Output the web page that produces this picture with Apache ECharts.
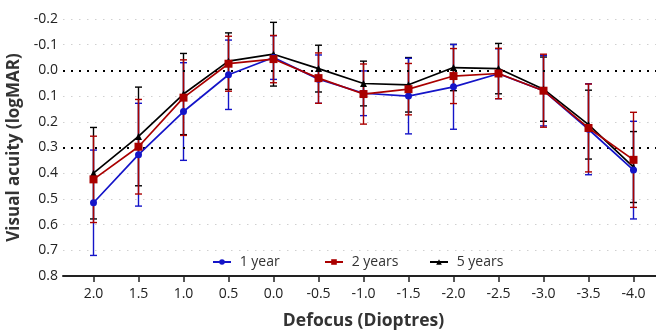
<!DOCTYPE html>
<html>
<head>
<meta charset="utf-8">
<script src="https://cdn.jsdelivr.net/npm/echarts@6/dist/echarts.min.js"></script>
<style>
  html, body { margin: 0; padding: 0; background: #fff; }
  #chart { width: 656px; height: 333px; }
</style>
</head>
<body>
<div id="chart"></div>
<script>
// Defocus levels (dioptres) along the x axis
const categories = ['2.0', '1.5', '1.0', '0.5', '0.0', '-0.5', '-1.0', '-1.5', '-2.0', '-2.5', '-3.0', '-3.5', '-4.0'];

// Mean visual acuity (logMAR) and standard deviation per follow-up
const year1 = [0.515, 0.328, 0.160, 0.017, -0.050, 0.034, 0.089, 0.100, 0.064, 0.013, 0.079, 0.229, 0.388];
const year1Err = [0.205, 0.200, 0.190, 0.135, 0.085, 0.094, 0.087, 0.147, 0.165, 0.097, 0.137, 0.177, 0.190];

const year2 = [0.424, 0.297, 0.106, -0.026, -0.044, 0.030, 0.092, 0.073, 0.022, 0.012, 0.079, 0.224, 0.348];
const year2Err = [0.168, 0.184, 0.147, 0.107, 0.092, 0.098, 0.117, 0.100, 0.107, 0.098, 0.142, 0.171, 0.185];

const year5 = [0.400, 0.257, 0.092, -0.036, -0.063, -0.007, 0.051, 0.056, -0.011, -0.007, 0.073, 0.211, 0.376];
const year5Err = [0.178, 0.192, 0.158, 0.110, 0.124, 0.091, 0.087, 0.106, 0.090, 0.098, 0.125, 0.134, 0.138];

// Reference acuity levels drawn as dotted lines
const refLines = [0.0, 0.3];

const FONT = 'Open Sans';
const BLUE = '#1414c8';
const RED = '#aa0000';
const BLACK = '#000000';

function errorData(mean, err) {
  return mean.map((m, i) => [i, m - err[i], m + err[i]]);
}

function errorSeries(name, mean, err, color, z) {
  return {
    name: name + ' SD',
    type: 'custom',
    xAxisIndex: 0,
    yAxisIndex: 0,
    z: z,
    silent: true,
    encode: { x: 0, y: [1, 2] },
    data: errorData(mean, err),
    renderItem: function (params, api) {
      const x = api.value(0);
      const lo = api.coord([x, api.value(1)]);
      const hi = api.coord([x, api.value(2)]);
      const hw = 3.5;
      const style = { stroke: color, lineWidth: 1.4 };
      return {
        type: 'group',
        children: [
          { type: 'line', shape: { x1: lo[0], y1: lo[1], x2: hi[0], y2: hi[1] }, style: style },
          { type: 'line', shape: { x1: lo[0] - hw, y1: lo[1], x2: lo[0] + hw, y2: lo[1] }, style: style },
          { type: 'line', shape: { x1: hi[0] - hw, y1: hi[1], x2: hi[0] + hw, y2: hi[1] }, style: style }
        ]
      };
    }
  };
}

function meanSeries(name, mean, color, symbol, size, z) {
  return {
    name: name,
    type: 'line',
    xAxisIndex: 0,
    yAxisIndex: 0,
    z: z,
    data: mean,
    symbol: symbol,
    symbolSize: size,
    showSymbol: true,
    lineStyle: { color: color, width: 1.7 },
    itemStyle: { color: color },
    emphasis: { disabled: true }
  };
}

function legendAt(name, left) {
  return {
    data: [name],
    left: left,
    top: 250,
    itemWidth: 18,
    itemHeight: 7,
    formatter: ' {name}',
    textStyle: { fontFamily: FONT, fontSize: 14, color: '#333' }
  };
}

const chart = echarts.init(document.getElementById('chart'), null, { renderer: 'canvas' });

chart.setOption({
  animation: false,
  backgroundColor: '#ffffff',
  textStyle: { fontFamily: FONT },
  legend: [
    legendAt('1 year', 207),
    legendAt('2 years', 319),
    legendAt('5 years', 424)
  ],
  grid: [
    { left: 71, right: 0, top: 19, bottom: 57, outerBoundsMode: 'none' },
    { left: 63, right: 0, top: 19, bottom: 57, outerBoundsMode: 'none' }
  ],
  xAxis: [
    {
      type: 'category',
      gridIndex: 0,
      data: categories,
      boundaryGap: true,
      axisLine: { show: false, onZero: false },
      axisTick: { show: true, alignWithLabel: true, length: 6, lineStyle: { color: '#222', width: 1.5 } },
      axisLabel: { fontFamily: FONT, fontSize: 14, color: '#222', margin: 11 },
      splitLine: { show: false },
      name: 'Defocus (Dioptres)',
      nameLocation: 'middle',
      nameGap: 36,
      nameTextStyle: { fontFamily: FONT, fontSize: 17.5, fontWeight: 'bold', color: '#333' }
    },
    {
      type: 'value',
      gridIndex: 1,
      min: 0,
      max: 1,
      axisLine: { show: true, onZero: false, lineStyle: { color: '#222', width: 2 } },
      axisTick: { show: false },
      axisLabel: { show: false },
      splitLine: { show: false }
    }
  ],
  yAxis: [
    {
      type: 'value',
      gridIndex: 0,
      inverse: true,
      min: -0.2,
      max: 0.8,
      interval: 0.1,
      show: false,
      splitLine: { show: false }
    },
    {
      type: 'value',
      gridIndex: 1,
      inverse: true,
      min: -0.2,
      max: 0.8,
      interval: 0.1,
      axisLine: { show: false },
      axisTick: { show: false },
      axisLabel: {
        fontFamily: FONT,
        fontSize: 14,
        color: '#222',
        margin: 5,
        formatter: function (v) {
          const r = Math.round(v * 10) / 10;
          return (Math.abs(r) < 1e-9 ? 0 : r).toFixed(1);
        }
      },
      splitLine: { show: true, lineStyle: { color: '#d0d0d0', width: 1, type: [1.5, 6.5] } },
      name: 'Visual acuity (logMAR)',
      nameLocation: 'middle',
      nameGap: 35,
      nameTextStyle: { fontFamily: FONT, fontSize: 17, fontWeight: 'bold', color: '#333' }
    }
  ],
  series: [
    {
      name: 'reference',
      type: 'line',
      xAxisIndex: 1,
      yAxisIndex: 1,
      data: [],
      silent: true,
      markLine: {
        silent: true,
        symbol: ['none', 'none'],
        label: { show: false },
        lineStyle: { color: '#000', width: 2, type: [2, 6] },
        data: refLines.map(v => ({ yAxis: v }))
      }
    },
    errorSeries('5 years', year5, year5Err, BLACK, 2),
    errorSeries('1 year', year1, year1Err, BLUE, 3),
    errorSeries('2 years', year2, year2Err, RED, 4),
    meanSeries('5 years', year5, BLACK, 'triangle', 7, 5),
    meanSeries('1 year', year1, BLUE, 'circle', 7, 6),
    meanSeries('2 years', year2, RED, 'rect', 8, 7)
  ]
});
</script>
</body>
</html>
